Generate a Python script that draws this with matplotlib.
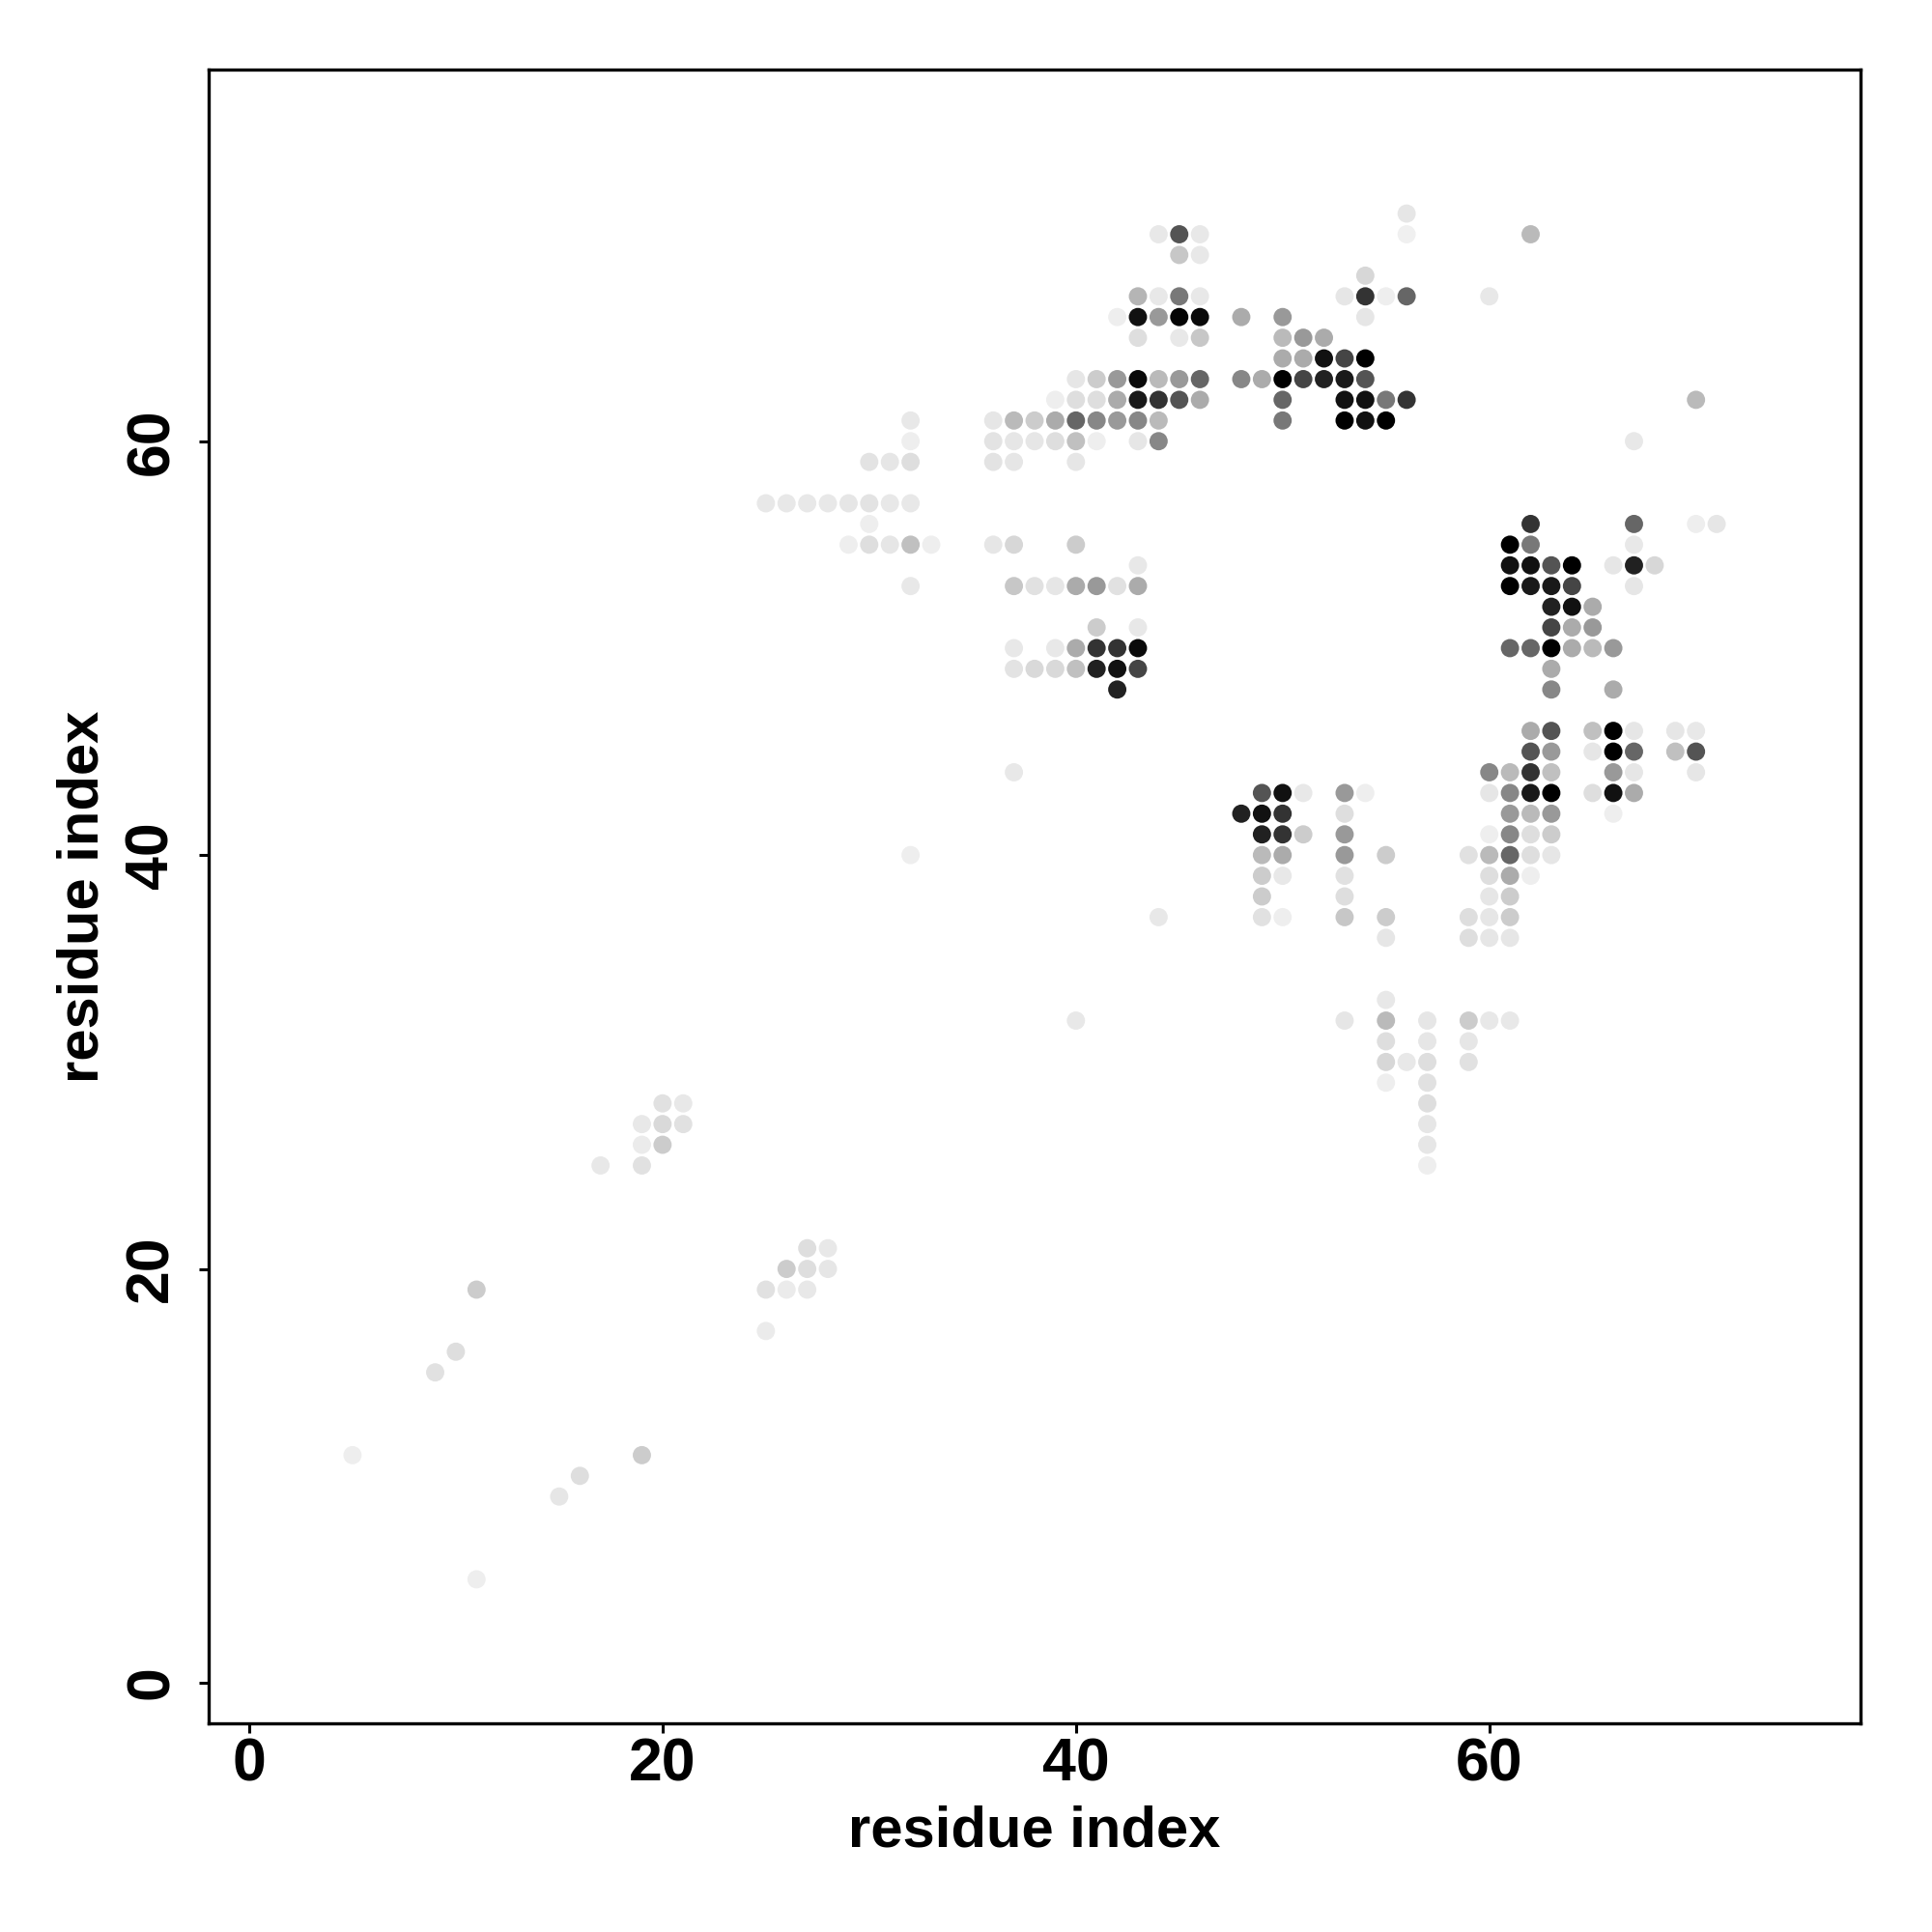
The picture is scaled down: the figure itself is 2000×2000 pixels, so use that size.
import numpy as np
import matplotlib
matplotlib.use("Agg")
import matplotlib.pyplot as plt

plt.rcParams['font.family'] = ['Liberation Sans', 'DejaVu Sans']
plt.rcParams['font.weight'] = 'bold'

# contact map points: residue i (x), residue j (y), grey shade (0 = black, 1 = white)
res_i = [
    56,
    44, 45, 46, 56, 62,
    45, 46,
    54,
    43, 44, 45, 46, 53, 54, 55, 56, 60,
    42, 43, 44, 45, 46, 48, 50, 54,
    43, 45, 46, 50, 51, 52,
    50, 51, 52, 53, 54,
    40, 41, 42, 43, 44, 45, 46, 48, 49, 50, 51, 52, 53, 54,
    39, 40, 41, 42, 43, 44, 45, 46, 50, 53, 54, 55, 56, 70,
    32, 36, 37, 38, 39, 40, 41, 42, 43, 44, 50, 53, 54, 55,
    32, 36, 37, 38, 39, 40, 41, 43, 44, 67,
    30, 31, 32, 36, 37, 40,
    25, 26, 27, 28, 29, 30, 31, 32,
    30, 62, 67, 70, 71,
    29, 30, 31, 32, 33, 36, 37, 40, 61, 62, 67,
    43, 61, 62, 63, 64, 66, 67, 68,
    32, 37, 38, 39, 40, 41, 42, 43, 61, 62, 63, 64, 67,
    63, 64, 65,
    41, 43, 63, 64, 65,
    37, 39, 40, 41, 42, 43, 61, 62, 63, 64, 65, 66,
    37, 38, 39, 40, 41, 42, 43, 63,
    42, 63, 66,
    62, 63, 65, 66, 67, 69, 70,
    62, 63, 65, 66, 67, 69, 70,
    37, 60, 61, 62, 63, 66, 67, 70,
    49, 50, 51, 53, 54, 60, 61, 62, 63, 65, 66, 67,
    48, 49, 50, 53, 61, 62, 63, 66,
    49, 50, 51, 53, 60, 61, 62, 63,
    32, 49, 50, 53, 55, 59, 60, 61, 62, 63,
    49, 50, 53, 60, 61, 62,
    49, 53, 60, 61,
    44, 49, 50, 53, 55, 59, 60, 61,
    55, 59, 60, 61,
    55,
    40, 53, 55, 57, 59, 60, 61,
    55, 57, 59,
    55, 56, 57, 59,
    55, 57,
    20, 21, 57,
    19, 20, 21, 57,
    19, 20, 57,
    17, 19, 57,
    27, 28,
    26, 27, 28,
    11, 25, 26, 27,
    25,
    10,
    9,
    5, 19,
    16,
    15,
    11,
]
res_j = [
    71,
    70, 70, 70, 70, 70,
    69, 69,
    68,
    67, 67, 67, 67, 67, 67, 67, 67, 67,
    66, 66, 66, 66, 66, 66, 66, 66,
    65, 65, 65, 65, 65, 65,
    64, 64, 64, 64, 64,
    63, 63, 63, 63, 63, 63, 63, 63, 63, 63, 63, 63, 63, 63,
    62, 62, 62, 62, 62, 62, 62, 62, 62, 62, 62, 62, 62, 62,
    61, 61, 61, 61, 61, 61, 61, 61, 61, 61, 61, 61, 61, 61,
    60, 60, 60, 60, 60, 60, 60, 60, 60, 60,
    59, 59, 59, 59, 59, 59,
    57, 57, 57, 57, 57, 57, 57, 57,
    56, 56, 56, 56, 56,
    55, 55, 55, 55, 55, 55, 55, 55, 55, 55, 55,
    54, 54, 54, 54, 54, 54, 54, 54,
    53, 53, 53, 53, 53, 53, 53, 53, 53, 53, 53, 53, 53,
    52, 52, 52,
    51, 51, 51, 51, 51,
    50, 50, 50, 50, 50, 50, 50, 50, 50, 50, 50, 50,
    49, 49, 49, 49, 49, 49, 49, 49,
    48, 48, 48,
    46, 46, 46, 46, 46, 46, 46,
    45, 45, 45, 45, 45, 45, 45,
    44, 44, 44, 44, 44, 44, 44, 44,
    43, 43, 43, 43, 43, 43, 43, 43, 43, 43, 43, 43,
    42, 42, 42, 42, 42, 42, 42, 42,
    41, 41, 41, 41, 41, 41, 41, 41,
    40, 40, 40, 40, 40, 40, 40, 40, 40, 40,
    39, 39, 39, 39, 39, 39,
    38, 38, 38, 38,
    37, 37, 37, 37, 37, 37, 37, 37,
    36, 36, 36, 36,
    33,
    32, 32, 32, 32, 32, 32, 32,
    31, 31, 31,
    30, 30, 30, 30,
    29, 29,
    28, 28, 28,
    27, 27, 27, 27,
    26, 26, 26,
    25, 25, 25,
    21, 21,
    20, 20, 20,
    19, 19, 19, 19,
    17,
    16,
    15,
    11, 11,
    10,
    9,
    5,
]
shade = [
    .90,
    .91, .33, .91, .94, .73,
    .78, .91,
    .84,
    .71, .91, .47, .91, .90, .20, .93, .40, .91,
    .93, .07, .60, .02, .04, .67, .60, .90,
    .87, .91, .78, .73, .60, .67,
    .67, .67, .07, .27, .00,
    .90, .80, .60, .04, .73, .60, .40, .53, .67, .00, .27, .13, .10, .33,
    .93, .87, .87, .67, .10, .20, .33, .67, .40, .07, .07, .47, .20, .73,
    .91, .90, .73, .80, .67, .40, .53, .60, .53, .73, .47, .00, .07, .00,
    .93, .89, .90, .90, .87, .75, .93, .90, .53, .91,
    .89, .90, .87, .89, .90, .90,
    .91, .91, .91, .91, .90, .89, .91, .91,
    .93, .20, .40, .93, .90,
    .93, .87, .90, .75, .93, .90, .84, .80, .00, .47, .91,
    .91, .07, .07, .33, .00, .90, .13, .84,
    .91, .78, .88, .90, .67, .60, .88, .67, .00, .10, .10, .27, .90,
    .13, .07, .67,
    .80, .91, .27, .67, .60,
    .91, .91, .67, .20, .20, .04, .40, .40, .00, .67, .73, .60,
    .89, .85, .85, .75, .13, .07, .27, .67,
    .13, .53, .67,
    .67, .33, .75, .00, .90, .90, .91,
    .33, .60, .90, .00, .40, .75, .33,
    .91, .53, .73, .20, .75, .60, .90, .90,
    .33, .07, .91, .60, .93, .90, .53, .10, .00, .87, .07, .67,
    .13, .07, .20, .87, .60, .73, .60, .93,
    .13, .20, .80, .60, .93, .53, .87, .80,
    .93, .73, .67, .60, .80, .88, .73, .40, .87, .90,
    .80, .91, .88, .87, .67, .93,
    .80, .87, .90, .80,
    .91, .88, .93, .78, .80, .87, .90, .80,
    .90, .87, .90, .90,
    .91,
    .91, .90, .73, .90, .80, .91, .91,
    .87, .90, .90,
    .84, .91, .87, .88,
    .93, .88,
    .88, .91, .87,
    .91, .85, .88, .90,
    .92, .80, .90,
    .91, .88, .93,
    .87, .91,
    .80, .87, .90,
    .80, .88, .92, .91,
    .92,
    .87,
    .88,
    .93, .80,
    .87,
    .90,
    .93,
]

ticks = [0, 20, 40, 60]

fig = plt.figure(figsize=(20, 20), dpi=100)
ax = fig.add_axes([0.108, 0.108, 0.855, 0.856])

ax.scatter(res_i, res_j, c=shade, cmap='gray', vmin=0, vmax=1, s=185, linewidths=0)

ax.set_xlim(-1.96, 77.96)
ax.set_ylim(-1.96, 77.96)
ax.set_xticks(ticks)
ax.set_yticks(ticks)
ax.tick_params(length=7, width=2.2, labelsize=45, pad=3)
ax.tick_params(axis='y', pad=14)
plt.yticks(rotation=90, va='center')
for sp in ax.spines.values():
    sp.set_linewidth(2.4)

ax.set_xlabel("residue index", fontsize=43, fontweight='bold', labelpad=8)
ax.set_ylabel("residue index", fontsize=43, fontweight='bold', labelpad=10)

fig.savefig("out.png", dpi=100, facecolor='white')
